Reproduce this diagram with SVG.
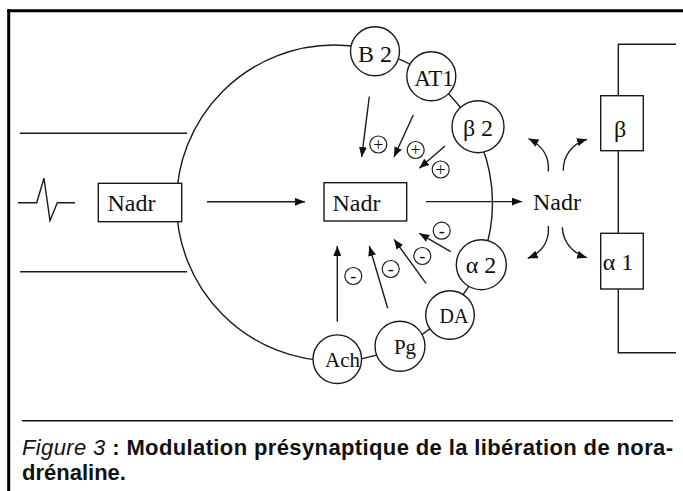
<svg xmlns="http://www.w3.org/2000/svg" width="683" height="491" viewBox="0 0 683 491">
<defs>
<marker id="ah" viewBox="0 0 10 8" refX="10" refY="4" markerWidth="10" markerHeight="8" markerUnits="userSpaceOnUse" orient="auto">
<path d="M0,0 L10,4 L0,8 z" fill="#111"/>
</marker>
</defs>
<style>
.ln{stroke:#1a1a1a;stroke-width:1.4;fill:none}
.ar{stroke:#1a1a1a;stroke-width:1.4;fill:none;marker-end:url(#ah)}
.rc{fill:#fff;stroke:#1a1a1a;stroke-width:1.4}
.bx{fill:#fff;stroke:#1a1a1a;stroke-width:1.4}
.sg{fill:#fff;stroke:#1a1a1a;stroke-width:1.2}
.t{font-family:"Liberation Serif","Times New Roman",serif;fill:#111}
.cap{font-family:"Liberation Sans",Arial,sans-serif;font-weight:bold;font-size:22px;fill:#111}
</style>
<rect width="683" height="491" fill="#fff"/>
<g id="frame">
<line x1="7.2" y1="10.7" x2="683" y2="10.7" stroke="#000" stroke-width="3"/>
<line x1="8.7" y1="9.2" x2="8.7" y2="491" stroke="#000" stroke-width="3"/>
</g>
<g id="axon">
<line class="ln" x1="20" y1="133.3" x2="187" y2="133.3"/>
<line class="ln" x1="20" y1="271.7" x2="187" y2="271.7"/>
<path class="ln" d="M18,202.7 H36.7 L44,178.3 L50,220.7 L57.3,202.7 H75"/>
</g>
<g id="terminal">
<circle class="ln" cx="334.5" cy="203" r="158"/>
</g>
<g id="postsynaptic">
<path class="ln" d="M676,44.3 H618.3 V352.7 H676"/>
</g>
<g id="connectors">
<line class="ar" x1="207" y1="201.8" x2="305" y2="201.8"/>
<line class="ar" x1="426" y1="201.6" x2="522" y2="201.6"/>
<line class="ar" x1="369.3" y1="96.7" x2="361.7" y2="157"/>
<line class="ar" x1="413.3" y1="115" x2="394" y2="157"/>
<line class="ar" x1="445" y1="146" x2="419.3" y2="168.3"/>
<line class="ar" x1="337.3" y1="321.7" x2="337.3" y2="246"/>
<line class="ar" x1="387.7" y1="308.3" x2="369.3" y2="246"/>
<line class="ar" x1="426" y1="283.3" x2="394" y2="239.3"/>
<line class="ar" x1="450.7" y1="251.7" x2="419.3" y2="233.3"/>
<path class="ar" d="M548.3,171.5 C549.5,158 543,146 528.5,138.5"/>
<path class="ar" d="M563.3,170.7 C563,157 571,144 587,139.3"/>
<path class="ar" d="M548.3,226 C549.5,240 543,252 527.7,258.3"/>
<path class="ar" d="M562.3,227.3 C563,242 572,253 587,257.7"/>
</g>
<g id="signs">
<circle class="sg" cx="378.3" cy="144.5" r="8.5"/>
<circle class="sg" cx="415.7" cy="150" r="8.5"/>
<circle class="sg" cx="440.7" cy="169.5" r="8.5"/>
<text class="t" x="378.3" y="150.5" font-size="18" text-anchor="middle">+</text>
<text class="t" x="415.7" y="156" font-size="18" text-anchor="middle">+</text>
<text class="t" x="440.7" y="175.5" font-size="18" text-anchor="middle">+</text>
<circle class="sg" cx="353.3" cy="276" r="8.5"/>
<circle class="sg" cx="390.7" cy="269" r="8.5"/>
<circle class="sg" cx="422.3" cy="256" r="8.5"/>
<circle class="sg" cx="441.7" cy="230.7" r="8.5"/>
<text class="t" x="353.3" y="282" font-size="18" text-anchor="middle">-</text>
<text class="t" x="390.7" y="275" font-size="18" text-anchor="middle">-</text>
<text class="t" x="422.3" y="262" font-size="18" text-anchor="middle">-</text>
<text class="t" x="441.7" y="236.7" font-size="18" text-anchor="middle">-</text>
</g>
<g id="nadr-axon">
<rect class="bx" x="98.3" y="183.3" width="83.4" height="38.4"/>
<text class="t" x="107.5" y="210.7" font-size="24">Nadr</text>
</g>
<g id="nadr-terminal">
<rect class="bx" x="324" y="182.7" width="82.7" height="38.3"/>
<text class="t" x="332.5" y="210.7" font-size="24">Nadr</text>
</g>
<g id="nadr-cleft">
<text class="t" x="533" y="210.3" font-size="24">Nadr</text>
</g>
<g id="r-b2">
<circle class="rc" cx="375" cy="51.3" r="24.5"/>
<text class="t" x="375" y="62" font-size="24" text-anchor="middle">B 2</text>
</g>
<g id="r-at1">
<circle class="rc" cx="431.3" cy="76.3" r="24.5"/>
<text class="t" x="434" y="86" font-size="23" text-anchor="middle">AT1</text>
</g>
<g id="r-beta2">
<circle class="rc" cx="478" cy="126.7" r="26"/>
<text class="t" x="478" y="136" font-size="24" text-anchor="middle">β 2</text>
</g>
<g id="r-alpha2">
<circle class="rc" cx="481.3" cy="264.7" r="25"/>
<text class="t" x="481" y="273.3" font-size="24" text-anchor="middle">α 2</text>
</g>
<g id="r-da">
<circle class="rc" cx="450" cy="315" r="24.3"/>
<text class="t" x="454" y="322.7" font-size="20" text-anchor="middle">DA</text>
</g>
<g id="r-pg">
<circle class="rc" cx="400" cy="346.3" r="25"/>
<text class="t" x="405" y="354" font-size="21" text-anchor="middle">Pg</text>
</g>
<g id="r-ach">
<circle class="rc" cx="337.3" cy="359.2" r="24.3"/>
<text class="t" x="342.5" y="367" font-size="21" text-anchor="middle">Ach</text>
</g>
<g id="post-beta">
<rect class="bx" x="600.7" y="95.7" width="42.6" height="55"/>
<text class="t" x="620" y="137" font-size="24" text-anchor="middle">β</text>
</g>
<g id="post-alpha1">
<rect class="bx" x="600.7" y="233.3" width="42.6" height="55.7"/>
<text class="t" x="618" y="270" font-size="24" text-anchor="middle">α 1</text>
</g>
<g id="caption">
<line x1="21.8" y1="420.7" x2="673" y2="420.7" stroke="#111" stroke-width="1.5"/>
<text class="cap" x="22" y="455" textLength="651" lengthAdjust="spacing"><tspan font-style="italic" font-weight="normal">Figure 3</tspan> : Modulation présynaptique de la libération de nora-</text>
<text class="cap" x="22" y="480">drénaline.</text>
</g>
</svg>
